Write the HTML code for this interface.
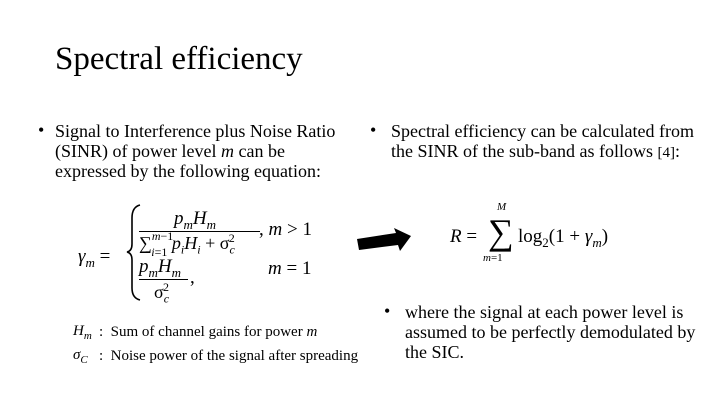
<!DOCTYPE html>
<html><head><meta charset="utf-8"><style>
body{margin:0;width:720px;height:405px;background:#fff;overflow:hidden;position:relative;font-family:"Liberation Serif",serif;color:#000}
.a{position:absolute;white-space:nowrap;line-height:1}
.t{font-size:18px}
i{font-style:italic}
sub,sup{line-height:0}
</style></head><body>
<div class="a" style="left:55px;top:43px;font-size:33px">Spectral efficiency</div>

<div class="a t" style="left:38px;top:121px">•</div>
<div class="a t" style="left:55px;top:121px;line-height:20px">Signal to Interference plus Noise Ratio<br>(SINR) of power level <i>m</i> can be<br>expressed by the following equation:</div>

<div class="a t" style="left:370px;top:121px">•</div>
<div class="a t" style="left:391px;top:121px;line-height:20px">Spectral efficiency can be calculated from<br>the SINR of the sub-band as follows <span style="font-size:15px">[4]</span>:</div>

<div class="a t" style="left:384px;top:302px">•</div>
<div class="a t" style="left:405px;top:302px;line-height:20px">where the signal at each power level is<br>assumed to be perfectly demodulated by<br>the SIC.</div>

<!-- gamma equation -->
<div class="a" style="left:78px;top:247px;font-size:19px"><i>γ<sub style="font-size:13px">m</sub></i> =</div>
<svg class="a" style="left:0;top:0" width="720" height="405"><path d="M140,205 Q132,207 132,218 L132,244 Q132,251 127,252 Q132,253 132,260 L132,288 Q132,298 140,300" fill="none" stroke="#000" stroke-width="1.6"/>
<polygon points="357,239 396,233 394,228 411,236 400,251 398,245 359,250" fill="#000"/></svg>
<div class="a" style="left:174px;top:209px;font-size:19px"><i>p<sub style="font-size:13px">m</sub>H<sub style="font-size:13px">m</sub></i></div>
<div class="a" style="left:139px;top:231px;width:121px;height:1.4px;background:#000"></div>
<div class="a" style="left:139px;top:234px;font-size:18px">∑<sup style="font-size:12px;position:relative;top:-2px"><i>m</i>−1</sup><sub style="font-size:12px;margin-left:-22px;position:relative;top:2px"><i>i</i>=1</sub> <i>p<sub style="font-size:12px">i</sub>H<sub style="font-size:12px">i</sub></i> + σ<sub style="font-size:12px"><i>c</i></sub><sup style="font-size:12px;margin-left:-6px">2</sup></div>
<div class="a" style="left:259px;top:220px;font-size:19px">, <i>m</i> &gt; 1</div>
<div class="a" style="left:139px;top:257px;font-size:19px"><i>p<sub style="font-size:13px">m</sub>H<sub style="font-size:13px">m</sub></i></div>
<div class="a" style="left:139px;top:279px;width:49px;height:1.4px;background:#000"></div>
<div class="a" style="left:154px;top:283px;font-size:18px">σ<sub style="font-size:12px"><i>c</i></sub><sup style="font-size:12px;margin-left:-6px">2</sup></div>
<div class="a" style="left:190px;top:268px;font-size:19px">,</div>
<div class="a" style="left:268px;top:259px;font-size:19px"><i>m</i> = 1</div>

<div class="a" style="left:73px;top:324px;font-size:15px"><i>H<sub style="font-size:11px">m</sub></i></div>
<div class="a" style="left:99px;top:325px;font-size:15px">:&nbsp; Sum of channel gains for power <i>m</i></div>
<div class="a" style="left:73px;top:348px;font-size:15px"><i>σ<sub style="font-size:11px">C</sub></i></div>
<div class="a" style="left:99px;top:349px;font-size:15px">:&nbsp; Noise power of the signal after spreading</div>

<!-- R equation -->
<div class="a" style="left:450px;top:227px;font-size:19px"><i>R</i> =</div>
<div class="a" style="left:488px;top:214px;font-size:36px">∑</div>
<div class="a" style="left:497px;top:202px;font-size:11px"><i>M</i></div>
<div class="a" style="left:483px;top:253px;font-size:11px"><i>m</i>=1</div>
<div class="a" style="left:518px;top:227px;font-size:19px">log<sub style="font-size:13px">2</sub>(1 + <i>γ<sub style="font-size:13px">m</sub></i>)</div>
</body></html>
